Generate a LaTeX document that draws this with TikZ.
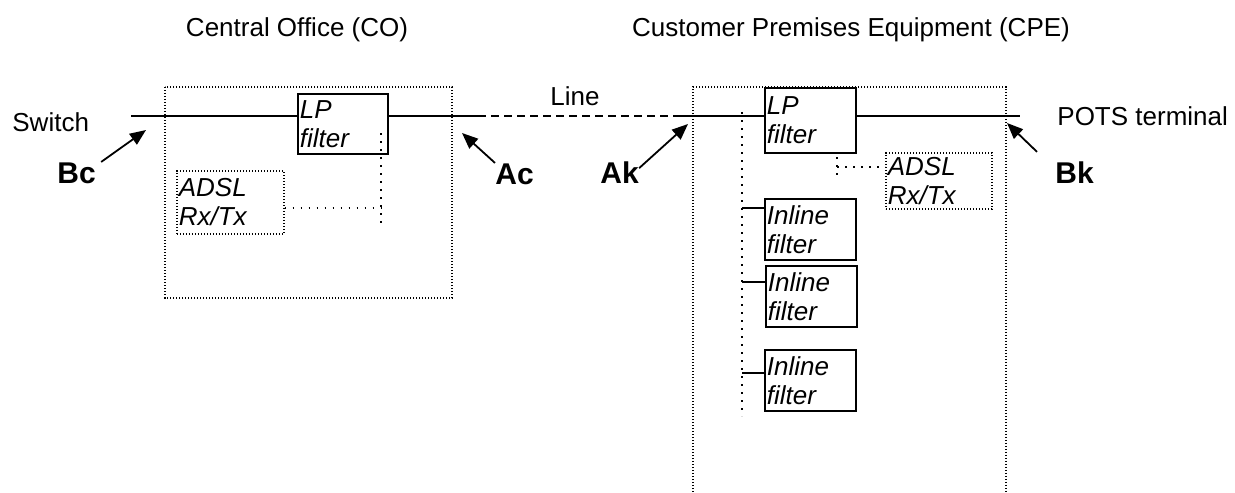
\documentclass[tikz,border=0pt]{standalone}
\usepackage{fontspec}
\setmainfont{Liberation Sans}
\usetikzlibrary{arrows.meta}

\begin{document}
\begin{tikzpicture}[
x=0.5pt, y=-0.5pt,
every node/.style={font=\fontsize{13}{14.5}\selectfont, inner sep=0pt},
wire/.style={line width=0.9pt},
filterbox/.style={rectangle, draw, line width=0.9pt, anchor=north west, inner xsep=1pt, align=left, font=\fontsize{13}{14.5}\selectfont\itshape},
adslbox/.style={rectangle, draw, line width=0.8pt, dash pattern=on 0.6pt off 0.9pt, anchor=north west, inner xsep=1pt, align=left, font=\fontsize{13}{14.5}\selectfont\itshape},
housing/.style={line width=0.8pt, dash pattern=on 0.6pt off 0.9pt},
tap/.style={line width=1pt, dash pattern=on 0.8pt off 3.2pt},
point/.style={font=\fontsize{15}{18}\selectfont\bfseries, anchor=base west},
pointer/.style={line width=0.9pt, -{Triangle[length=8pt,width=6.5pt]}},
]
\useasboundingbox (0,0) rectangle (1235,492);

\node[anchor=base] (coTitle) at (297,37) {Central Office (CO)};
\node[anchor=base] (cpeTitle) at (851,37) {Customer Premises Equipment (CPE)};

\draw[housing] (165,87) rectangle (452,298);
\draw[housing] (693,492) -- (693,87) -- (1006,87) -- (1006,492);

% central office
\coordinate (swEnd) at (131,116);
\coordinate (coEnd) at (478,116);
\node[filterbox, text width=43pt, minimum height=30pt] (lpCO) at (297,93) {LP\\filter};
\node[adslbox, text width=51.5pt, minimum height=31.5pt] (adslCO) at (176,170) {ADSL\\Rx/Tx};
\draw[wire] (swEnd) -- (swEnd -| lpCO.west);
\draw[wire] (lpCO.east |- swEnd) -- (coEnd);
\coordinate (coTapTop) at (381,133);
\coordinate (coTapBot) at (381,223);
\coordinate (coTapJoin) at (381,208);
\draw[tap] (coTapTop) -- (coTapBot);
\draw[tap] (coTapJoin -| adslCO.east) -- (coTapJoin);

% line
\coordinate (cpeStart) at (677,116);
\draw[wire, dash pattern=on 4pt off 2.5pt] (coEnd) -- (cpeStart);
\node[anchor=base] (lineLbl) at (575,105) {Line};

% customer premises
\coordinate (potsEnd) at (1020,116);
\node[filterbox, text width=43.5pt, minimum height=32.5pt] (lpCPE) at (764,87) {LP\\filter};
\draw[wire] (cpeStart) -- (cpeStart -| lpCPE.west);
\draw[wire] (lpCPE.east |- potsEnd) -- (potsEnd);
\node[adslbox, text width=51pt, minimum height=28pt] (adslCPE) at (885,152) {ADSL\\Rx/Tx};
\coordinate (cpeTapTop) at (837,157);
\coordinate (cpeTapBot) at (837,176);
\coordinate (cpeTapJoin) at (837,167);
\draw[tap] (cpeTapTop) -- (cpeTapBot);
\draw[tap] (cpeTapJoin) -- (cpeTapJoin -| adslCPE.west);

\coordinate (busTop) at (742,112);
\coordinate (busBot) at (742,416);
\draw[tap] (busTop) -- (busBot);
\node[filterbox, text width=43.5pt, minimum height=30.5pt] (inl1) at (764,198) {Inline\\filter};
\node[filterbox, text width=43.5pt, minimum height=30.5pt] (inl2) at (765,265) {Inline\\filter};
\node[filterbox, text width=43.5pt, minimum height=30.5pt] (inl3) at (764,349) {Inline\\filter};
\coordinate (tap1) at (742,208);
\coordinate (tap2) at (742,282);
\coordinate (tap3) at (742,373);
\draw[wire] (tap1) -- (tap1 -| inl1.west);
\draw[wire] (tap2) -- (tap2 -| inl2.west);
\draw[wire] (tap3) -- (tap3 -| inl3.west);

% reference points
\node[anchor=base west] (switch) at (12,132) {Switch};
\node[anchor=base west] (pots) at (1057,126) {POTS terminal};
\node[point] (Bc) at (57,183) {Bc};
\node[point] (Ac) at (495,184) {Ac};
\node[point] (Ak) at (600,183) {Ak};
\node[point] (Bk) at (1055,183) {Bk};
\coordinate (bcTip) at (146,130);
\coordinate (acTip) at (462,133);
\coordinate (akTip) at (688,124);
\coordinate (bkTip) at (1007,123);
\draw[pointer] ([xshift=2.5pt]Bc.north east) -- (bcTip);
\draw[pointer] (Ac.north west) -- (acTip);
\draw[pointer] ([yshift=2pt]Ak.east) -- (akTip);
\draw[pointer] ([shift={(-9pt,4.5pt)}]Bk.north west) -- (bkTip);
\end{tikzpicture}
\end{document}
